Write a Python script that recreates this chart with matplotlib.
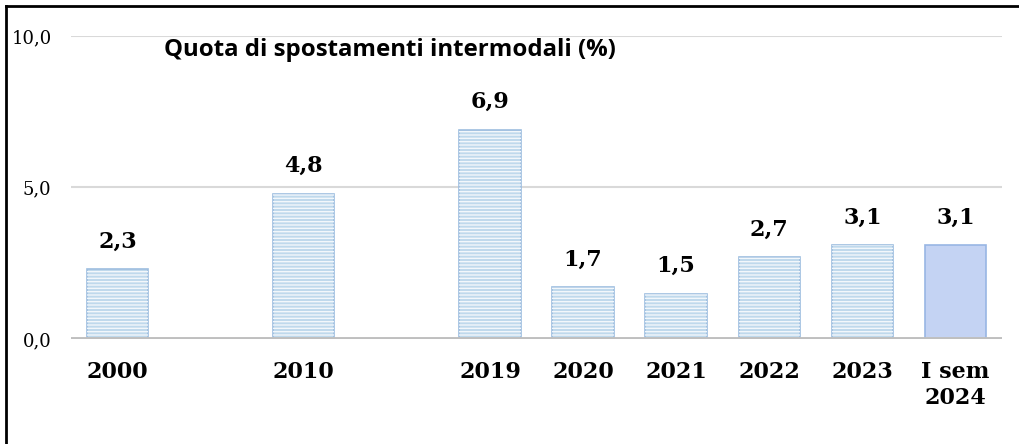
import matplotlib
matplotlib.use("Agg")
import matplotlib.pyplot as plt
import numpy as np
from matplotlib.lines import Line2D

# categories (blank slots keep the gaps between 2000, 2010 and 2019)
years = ["2000", "", "2010", "", "2019", "2020", "2021", "2022", "2023", "I sem\n2024"]
share = [2.3, np.nan, 4.8, np.nan, 6.9, 1.7, 1.5, 2.7, 3.1, 3.1]
value_labels = ["2,3", "", "4,8", "", "6,9", "1,7", "1,5", "2,7", "3,1", "3,1"]
yticks = [0.0, 5.0, 10.0]
ytick_labels = ["0,0", "5,0", "10,0"]
title = "Quota di spostamenti intermodali (%)"

plt.rcParams["hatch.linewidth"] = 1.0

fig = plt.figure(figsize=(10.19, 4.44), dpi=100)
ax = fig.add_axes([0.0697, 0.2365, 0.9136, 0.6825])

x = np.arange(len(years))
vals = np.array(share, dtype=float)
striped = x < len(years) - 1

# striped bars
ax.bar(x[striped], vals[striped], width=0.66, color="#bfd9ec",
       edgecolor="#9dbddf", linewidth=1.2, zorder=2)
ax.bar(x[striped], vals[striped], width=0.66, fill=False, hatch="-----",
       edgecolor="#f2f7fb", linewidth=0, zorder=3)
# half-year bar with the darker texture
ax.bar(x[~striped], vals[~striped], width=0.66, color="#c4d3f3",
       edgecolor="#98b6e4", linewidth=1.2, zorder=2)

for xi, v, lab in zip(x, vals, value_labels):
    if np.isnan(v):
        continue
    ax.annotate(lab, (xi, v), xytext=(0, 12), textcoords="offset points",
                ha="center", va="bottom", fontsize=16, fontweight="bold",
                family="DejaVu Serif")

ax.set_xlim(-0.5, len(years) - 0.5)
ax.set_ylim(0, 10)
ax.set_yticks(yticks)
ax.set_yticklabels(ytick_labels, family="DejaVu Serif", fontsize=13)
ax.set_xticks(x)
ax.set_xticklabels(years, family="DejaVu Serif", fontweight="bold", fontsize=16,
                   linespacing=1.25)
ax.tick_params(axis="both", length=0)
ax.tick_params(axis="y", pad=14)
ax.tick_params(axis="x", pad=16)

for s in ax.spines.values():
    s.set_visible(False)
ax.grid(axis="y", color="#d9d9d9", linewidth=1.5, zorder=0)
ax.set_axisbelow(True)
ax.axhline(0, color="#bfbfbf", linewidth=2.8, zorder=4)

ax.text(0.0995, 0.955, title, transform=ax.transAxes, ha="left", va="center",
        fontsize=17.3, fontweight="bold", family="Open Sans")

# outer frame (left and top edges visible)
fig.add_artist(Line2D([6 / 1019, 6 / 1019], [0, 1 - 6 / 444], color="black",
                      linewidth=2, transform=fig.transFigure))
fig.add_artist(Line2D([6 / 1019, 1], [1 - 6 / 444, 1 - 6 / 444], color="black",
                      linewidth=2, transform=fig.transFigure))

fig.savefig("out.png", dpi=100)
